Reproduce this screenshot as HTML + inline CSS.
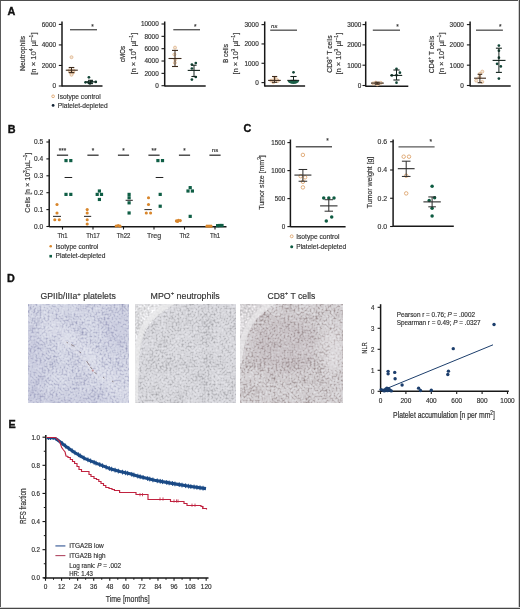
<!DOCTYPE html>
<html><head><meta charset="utf-8"><style>
html,body{margin:0;padding:0;background:#fff;}
body{width:520px;height:609px;overflow:hidden;}
svg{display:block;font-family:"Liberation Sans", sans-serif;will-change:transform;}
</style></head><body>
<svg width="520" height="609" viewBox="0 0 520 609">
<rect x="0" y="0" width="520" height="609" fill="#fff"/>
<rect x="0" y="0" width="1" height="609" fill="#5a5a5a"/>
<rect x="0" y="0" width="520" height="1" fill="#4e4e4e"/>
<rect x="518" y="0" width="1" height="609" fill="#cfcfcf"/>
<rect x="519" y="0" width="1" height="609" fill="#474747"/>
<rect x="0" y="607" width="520" height="1" fill="#cfcfcf"/>
<rect x="0" y="608" width="520" height="1" fill="#474747"/>
<text transform="translate(7.6 15) scale(1 1)" x="0" y="0" font-size="10.8" font-weight="bold" fill="#111" stroke="#111" stroke-width="0.35">A</text>
<text transform="translate(7.8 132.6) scale(1 1)" x="0" y="0" font-size="10.8" font-weight="bold" fill="#111" stroke="#111" stroke-width="0.35">B</text>
<text transform="translate(243.6 132.4) scale(1 1)" x="0" y="0" font-size="10.8" font-weight="bold" fill="#111" stroke="#111" stroke-width="0.35">C</text>
<text transform="translate(7 282.2) scale(1 1)" x="0" y="0" font-size="10.8" font-weight="bold" fill="#111" stroke="#111" stroke-width="0.35">D</text>
<text transform="translate(8.6 428.4) scale(1 1)" x="0" y="0" font-size="10.8" font-weight="bold" fill="#111" stroke="#111" stroke-width="0.35">E</text>
<line x1="62" y1="21.5" x2="62" y2="86.6" stroke="#181818" stroke-width="1.5"/>
<line x1="58.8" y1="24.4" x2="62" y2="24.4" stroke="#181818" stroke-width="1.1"/>
<text transform="translate(56 26.8) scale(0.97 1)" x="-14.68" y="0" font-size="6.6" fill="#333333" stroke="#333333" stroke-width="0.17">6000</text>
<line x1="58.8" y1="44.93" x2="62" y2="44.93" stroke="#181818" stroke-width="1.1"/>
<text transform="translate(56 47.33) scale(0.97 1)" x="-14.68" y="0" font-size="6.6" fill="#333333" stroke="#333333" stroke-width="0.17">4000</text>
<line x1="58.8" y1="65.47" x2="62" y2="65.47" stroke="#181818" stroke-width="1.1"/>
<text transform="translate(56 67.87) scale(0.97 1)" x="-14.68" y="0" font-size="6.6" fill="#333333" stroke="#333333" stroke-width="0.17">2000</text>
<line x1="58.8" y1="86" x2="62" y2="86" stroke="#181818" stroke-width="1.1"/>
<text transform="translate(56 88.4) scale(0.97 1)" x="-3.67" y="0" font-size="6.6" fill="#333333" stroke="#333333" stroke-width="0.17">0</text>
<line x1="62" y1="86.1" x2="102.5" y2="86.1" stroke="#181818" stroke-width="1.5"/>
<line x1="70" y1="29.7" x2="97" y2="29.7" stroke="#5a5a5a" stroke-width="1.4"/>
<text transform="translate(92.4 28.9) scale(1 1)" x="-1.26" y="0" font-size="6.5" fill="#333" stroke="#333" stroke-width="0.16">*</text>
<circle cx="71.5" cy="57.2" r="1.5" fill="#f3e6d8" stroke="#dcae80" stroke-width="0.7"/>
<circle cx="70.2" cy="71.8" r="1.5" fill="#f3e6d8" stroke="#dcae80" stroke-width="0.7"/>
<circle cx="73" cy="72.4" r="1.5" fill="#f3e6d8" stroke="#dcae80" stroke-width="0.7"/>
<circle cx="71.6" cy="73.6" r="1.5" fill="#f3e6d8" stroke="#dcae80" stroke-width="0.7"/>
<circle cx="69.5" cy="70.2" r="1.5" fill="#f3e6d8" stroke="#dcae80" stroke-width="0.7"/>
<circle cx="73.6" cy="70.6" r="1.5" fill="#f3e6d8" stroke="#dcae80" stroke-width="0.7"/>
<circle cx="71.5" cy="74.8" r="1.5" fill="#f3e6d8" stroke="#dcae80" stroke-width="0.7"/>
<line x1="71.5" y1="67.5" x2="71.5" y2="72.6" stroke="#3c2a1c" stroke-width="1"/>
<line x1="65.8" y1="70.2" x2="77.8" y2="70.2" stroke="#3c2a1c" stroke-width="1.1"/>
<line x1="68.7" y1="67.5" x2="74.3" y2="67.5" stroke="#3c2a1c" stroke-width="1.1"/>
<line x1="68.7" y1="72.6" x2="74.3" y2="72.6" stroke="#3c2a1c" stroke-width="1.1"/>
<circle cx="88.9" cy="77.3" r="1.35" fill="#124536"/>
<circle cx="85.5" cy="82.3" r="1.35" fill="#124536"/>
<circle cx="88.4" cy="82.4" r="1.35" fill="#124536"/>
<circle cx="91.8" cy="81.6" r="1.35" fill="#124536"/>
<circle cx="95.8" cy="81.9" r="1.35" fill="#124536"/>
<circle cx="90" cy="83.4" r="1.35" fill="#124536"/>
<line x1="90.5" y1="80.3" x2="90.5" y2="83.6" stroke="#14241e" stroke-width="1"/>
<line x1="85.3" y1="81.9" x2="96.8" y2="81.9" stroke="#14241e" stroke-width="1.1"/>
<line x1="88" y1="80.3" x2="93" y2="80.3" stroke="#14241e" stroke-width="1.1"/>
<line x1="88" y1="83.6" x2="93" y2="83.6" stroke="#14241e" stroke-width="1.1"/>
<text transform="translate(25.4 53.5) rotate(-90) scale(0.91 1)" x="-19.22" y="0" font-size="7.6" fill="#333333" stroke="#333333" stroke-width="0.18">Neutrophils</text>
<text transform="translate(35.8 53.6) rotate(-90) scale(1 1)" x="-21.18" y="0" font-size="7.6" fill="#333333" stroke="#333333" stroke-width="0.16">[n × 10<tspan font-size="5.17" dy="-2.89">4</tspan><tspan dy="2.89"> µl</tspan><tspan font-size="5.17" dy="-2.89">–1</tspan><tspan dy="2.89">]</tspan></text>
<line x1="164.7" y1="21.5" x2="164.7" y2="86.4" stroke="#181818" stroke-width="1.5"/>
<line x1="161.5" y1="24" x2="164.7" y2="24" stroke="#181818" stroke-width="1.1"/>
<text transform="translate(158.7 26.4) scale(0.97 1)" x="-18.35" y="0" font-size="6.6" fill="#333333" stroke="#333333" stroke-width="0.17">10000</text>
<line x1="161.5" y1="36.34" x2="164.7" y2="36.34" stroke="#181818" stroke-width="1.1"/>
<text transform="translate(158.7 38.74) scale(0.97 1)" x="-14.68" y="0" font-size="6.6" fill="#333333" stroke="#333333" stroke-width="0.17">8000</text>
<line x1="161.5" y1="48.68" x2="164.7" y2="48.68" stroke="#181818" stroke-width="1.1"/>
<text transform="translate(158.7 51.08) scale(0.97 1)" x="-14.68" y="0" font-size="6.6" fill="#333333" stroke="#333333" stroke-width="0.17">6000</text>
<line x1="161.5" y1="61.02" x2="164.7" y2="61.02" stroke="#181818" stroke-width="1.1"/>
<text transform="translate(158.7 63.42) scale(0.97 1)" x="-14.68" y="0" font-size="6.6" fill="#333333" stroke="#333333" stroke-width="0.17">4000</text>
<line x1="161.5" y1="73.36" x2="164.7" y2="73.36" stroke="#181818" stroke-width="1.1"/>
<text transform="translate(158.7 75.76) scale(0.97 1)" x="-14.68" y="0" font-size="6.6" fill="#333333" stroke="#333333" stroke-width="0.17">2000</text>
<line x1="161.5" y1="85.7" x2="164.7" y2="85.7" stroke="#181818" stroke-width="1.1"/>
<text transform="translate(158.7 88.1) scale(0.97 1)" x="-3.67" y="0" font-size="6.6" fill="#333333" stroke="#333333" stroke-width="0.17">0</text>
<line x1="164.7" y1="85.9" x2="205.7" y2="85.9" stroke="#181818" stroke-width="1.5"/>
<line x1="173.3" y1="29.7" x2="200" y2="29.7" stroke="#5a5a5a" stroke-width="1.4"/>
<text transform="translate(195.3 28.9) scale(1 1)" x="-1.26" y="0" font-size="6.5" fill="#333" stroke="#333" stroke-width="0.16">*</text>
<circle cx="175" cy="47.6" r="1.5" fill="#f3e6d8" stroke="#dcae80" stroke-width="0.7"/>
<circle cx="174.4" cy="54.5" r="1.5" fill="#f3e6d8" stroke="#dcae80" stroke-width="0.7"/>
<circle cx="175.2" cy="59.5" r="1.5" fill="#f3e6d8" stroke="#dcae80" stroke-width="0.7"/>
<circle cx="174.8" cy="62.8" r="1.5" fill="#f3e6d8" stroke="#dcae80" stroke-width="0.7"/>
<line x1="175" y1="50.4" x2="175" y2="66.5" stroke="#3c2a1c" stroke-width="1"/>
<line x1="168.5" y1="58.5" x2="181.5" y2="58.5" stroke="#3c2a1c" stroke-width="1.1"/>
<line x1="172" y1="50.4" x2="178" y2="50.4" stroke="#3c2a1c" stroke-width="1.1"/>
<line x1="172" y1="66.5" x2="178" y2="66.5" stroke="#3c2a1c" stroke-width="1.1"/>
<circle cx="195.8" cy="63" r="1.35" fill="#124536"/>
<circle cx="191.9" cy="64.6" r="1.35" fill="#124536"/>
<circle cx="191.9" cy="68.5" r="1.35" fill="#124536"/>
<circle cx="195.8" cy="77" r="1.35" fill="#124536"/>
<circle cx="191.9" cy="79.6" r="1.35" fill="#124536"/>
<line x1="194" y1="65.2" x2="194" y2="76.5" stroke="#14241e" stroke-width="1"/>
<line x1="187.7" y1="70.4" x2="200" y2="70.4" stroke="#14241e" stroke-width="1.1"/>
<line x1="191.4" y1="65.2" x2="196.6" y2="65.2" stroke="#14241e" stroke-width="1.1"/>
<line x1="191.4" y1="76.5" x2="196.6" y2="76.5" stroke="#14241e" stroke-width="1.1"/>
<text transform="translate(125.4 54) rotate(-90) scale(0.81 1)" x="-9.92" y="0" font-size="7.6" fill="#333333" stroke="#333333" stroke-width="0.2">cMOs</text>
<text transform="translate(136 53.6) rotate(-90) scale(0.99 1)" x="-21.18" y="0" font-size="7.6" fill="#333333" stroke="#333333" stroke-width="0.16">[n × 10<tspan font-size="5.17" dy="-2.89">4</tspan><tspan dy="2.89"> µl</tspan><tspan font-size="5.17" dy="-2.89">–1</tspan><tspan dy="2.89">]</tspan></text>
<line x1="264.7" y1="21.5" x2="264.7" y2="86.6" stroke="#181818" stroke-width="1.5"/>
<line x1="261.5" y1="24.61" x2="264.7" y2="24.61" stroke="#181818" stroke-width="1.1"/>
<text transform="translate(258.7 27.01) scale(0.97 1)" x="-14.68" y="0" font-size="6.6" fill="#333333" stroke="#333333" stroke-width="0.17">3000</text>
<line x1="261.5" y1="43.94" x2="264.7" y2="43.94" stroke="#181818" stroke-width="1.1"/>
<text transform="translate(258.7 46.34) scale(0.97 1)" x="-14.68" y="0" font-size="6.6" fill="#333333" stroke="#333333" stroke-width="0.17">2000</text>
<line x1="261.5" y1="63.27" x2="264.7" y2="63.27" stroke="#181818" stroke-width="1.1"/>
<text transform="translate(258.7 65.67) scale(0.97 1)" x="-14.68" y="0" font-size="6.6" fill="#333333" stroke="#333333" stroke-width="0.17">1000</text>
<line x1="261.5" y1="82.6" x2="264.7" y2="82.6" stroke="#181818" stroke-width="1.1"/>
<text transform="translate(258.7 85) scale(0.97 1)" x="-3.67" y="0" font-size="6.6" fill="#333333" stroke="#333333" stroke-width="0.17">0</text>
<line x1="264.7" y1="86.1" x2="305.1" y2="86.1" stroke="#181818" stroke-width="1.5"/>
<line x1="270.2" y1="30.2" x2="297" y2="30.2" stroke="#5a5a5a" stroke-width="1.4"/>
<text transform="translate(274.2 27.6) scale(1 1)" x="-3.17" y="0" font-size="6" font-style="italic" fill="#333333" stroke="#333333" stroke-width="0.16">ns</text>
<circle cx="271.2" cy="80.6" r="1.5" fill="#f3e6d8" stroke="#dcae80" stroke-width="0.7"/>
<circle cx="274.6" cy="78.6" r="1.5" fill="#f3e6d8" stroke="#dcae80" stroke-width="0.7"/>
<circle cx="277.8" cy="80.9" r="1.5" fill="#f3e6d8" stroke="#dcae80" stroke-width="0.7"/>
<circle cx="273.4" cy="82.2" r="1.5" fill="#f3e6d8" stroke="#dcae80" stroke-width="0.7"/>
<circle cx="276.5" cy="79.4" r="1.5" fill="#f3e6d8" stroke="#dcae80" stroke-width="0.7"/>
<line x1="274.6" y1="76.5" x2="274.6" y2="82.3" stroke="#3c2a1c" stroke-width="1"/>
<line x1="268.1" y1="80.4" x2="280.8" y2="80.4" stroke="#3c2a1c" stroke-width="1.1"/>
<line x1="272" y1="76.5" x2="277.2" y2="76.5" stroke="#3c2a1c" stroke-width="1.1"/>
<line x1="272" y1="82.3" x2="277.2" y2="82.3" stroke="#3c2a1c" stroke-width="1.1"/>
<circle cx="293.5" cy="72.3" r="1.35" fill="#124536"/>
<line x1="293.5" y1="76.5" x2="293.5" y2="80.4" stroke="#14241e" stroke-width="1"/>
<line x1="287.3" y1="80.4" x2="299.2" y2="80.4" stroke="#14241e" stroke-width="1.1"/>
<line x1="290.4" y1="76.5" x2="296.6" y2="76.5" stroke="#14241e" stroke-width="1.1"/>
<line x1="290.4" y1="80.4" x2="296.6" y2="80.4" stroke="#14241e" stroke-width="1.1"/>
<path d="M287.6 80.9 L299 80.9 C298.6 82.6 296.8 83.8 293.5 83.9 C290.2 83.8 288.2 82.6 287.6 80.9 Z" fill="#1a5f48"/>
<text transform="translate(228.4 53.6) rotate(-90) scale(0.85 1)" x="-11.19" y="0" font-size="7.6" fill="#333333" stroke="#333333" stroke-width="0.19">B cells</text>
<text transform="translate(238.3 53.6) rotate(-90) scale(0.99 1)" x="-21.18" y="0" font-size="7.6" fill="#333333" stroke="#333333" stroke-width="0.16">[n × 10<tspan font-size="5.17" dy="-2.89">3</tspan><tspan dy="2.89"> µl</tspan><tspan font-size="5.17" dy="-2.89">–1</tspan><tspan dy="2.89">]</tspan></text>
<line x1="365.7" y1="21.5" x2="365.7" y2="86.7" stroke="#181818" stroke-width="1.5"/>
<line x1="362.5" y1="24.6" x2="365.7" y2="24.6" stroke="#181818" stroke-width="1.1"/>
<text transform="translate(361.4 27) scale(0.97 1)" x="-14.68" y="0" font-size="6.6" fill="#333333" stroke="#333333" stroke-width="0.17">3000</text>
<line x1="362.5" y1="44.9" x2="365.7" y2="44.9" stroke="#181818" stroke-width="1.1"/>
<text transform="translate(361.4 47.3) scale(0.97 1)" x="-14.68" y="0" font-size="6.6" fill="#333333" stroke="#333333" stroke-width="0.17">2000</text>
<line x1="362.5" y1="65.2" x2="365.7" y2="65.2" stroke="#181818" stroke-width="1.1"/>
<text transform="translate(361.4 67.6) scale(0.97 1)" x="-14.68" y="0" font-size="6.6" fill="#333333" stroke="#333333" stroke-width="0.17">1000</text>
<line x1="362.5" y1="85.5" x2="365.7" y2="85.5" stroke="#181818" stroke-width="1.1"/>
<text transform="translate(361.4 87.9) scale(0.97 1)" x="-3.67" y="0" font-size="6.6" fill="#333333" stroke="#333333" stroke-width="0.17">0</text>
<line x1="365.7" y1="86.2" x2="408.3" y2="86.2" stroke="#181818" stroke-width="1.5"/>
<line x1="372.8" y1="30.2" x2="400" y2="30.2" stroke="#5a5a5a" stroke-width="1.4"/>
<text transform="translate(397.5 29.2) scale(1 1)" x="-1.26" y="0" font-size="6.5" fill="#333" stroke="#333" stroke-width="0.16">*</text>
<circle cx="373.2" cy="83.4" r="1.5" fill="#f3e6d8" stroke="#dcae80" stroke-width="0.7"/>
<circle cx="375.8" cy="82.6" r="1.5" fill="#f3e6d8" stroke="#dcae80" stroke-width="0.7"/>
<circle cx="378.4" cy="83.8" r="1.5" fill="#f3e6d8" stroke="#dcae80" stroke-width="0.7"/>
<circle cx="380.8" cy="82.8" r="1.5" fill="#f3e6d8" stroke="#dcae80" stroke-width="0.7"/>
<circle cx="377.2" cy="84.4" r="1.5" fill="#f3e6d8" stroke="#dcae80" stroke-width="0.7"/>
<line x1="377.2" y1="82.2" x2="377.2" y2="84.2" stroke="#3c2a1c" stroke-width="1"/>
<line x1="371" y1="83.1" x2="383.8" y2="83.1" stroke="#3c2a1c" stroke-width="1.1"/>
<line x1="374.8" y1="82.2" x2="379.6" y2="82.2" stroke="#3c2a1c" stroke-width="1.1"/>
<line x1="374.8" y1="84.2" x2="379.6" y2="84.2" stroke="#3c2a1c" stroke-width="1.1"/>
<circle cx="396.5" cy="68.8" r="1.35" fill="#124536"/>
<circle cx="399.9" cy="72.7" r="1.35" fill="#124536"/>
<circle cx="391.8" cy="75.4" r="1.35" fill="#124536"/>
<circle cx="396.5" cy="75.2" r="1.35" fill="#124536"/>
<circle cx="396.5" cy="82.7" r="1.35" fill="#124536"/>
<line x1="396.5" y1="70" x2="396.5" y2="80" stroke="#14241e" stroke-width="1"/>
<line x1="390.3" y1="75.4" x2="402.2" y2="75.4" stroke="#14241e" stroke-width="1.1"/>
<line x1="393.4" y1="70" x2="399.6" y2="70" stroke="#14241e" stroke-width="1.1"/>
<line x1="393.4" y1="80" x2="399.6" y2="80" stroke="#14241e" stroke-width="1.1"/>
<text transform="translate(332 54) rotate(-90) scale(0.89 1)" x="-21.01" y="0" font-size="7.6" fill="#333333" stroke="#333333" stroke-width="0.18">CD8<tspan font-size="5.17" dy="-2.89">+</tspan><tspan dy="2.89"> T cells</tspan></text>
<text transform="translate(341.2 53.6) rotate(-90) scale(0.99 1)" x="-21.18" y="0" font-size="7.6" fill="#333333" stroke="#333333" stroke-width="0.16">[n × 10<tspan font-size="5.17" dy="-2.89">3</tspan><tspan dy="2.89"> µl</tspan><tspan font-size="5.17" dy="-2.89">–1</tspan><tspan dy="2.89">]</tspan></text>
<line x1="470.1" y1="21.5" x2="470.1" y2="86.5" stroke="#181818" stroke-width="1.5"/>
<line x1="466.9" y1="24.6" x2="470.1" y2="24.6" stroke="#181818" stroke-width="1.1"/>
<text transform="translate(463.8 27) scale(0.97 1)" x="-14.68" y="0" font-size="6.6" fill="#333333" stroke="#333333" stroke-width="0.17">3000</text>
<line x1="466.9" y1="44.9" x2="470.1" y2="44.9" stroke="#181818" stroke-width="1.1"/>
<text transform="translate(463.8 47.3) scale(0.97 1)" x="-14.68" y="0" font-size="6.6" fill="#333333" stroke="#333333" stroke-width="0.17">2000</text>
<line x1="466.9" y1="65.2" x2="470.1" y2="65.2" stroke="#181818" stroke-width="1.1"/>
<text transform="translate(463.8 67.6) scale(0.97 1)" x="-14.68" y="0" font-size="6.6" fill="#333333" stroke="#333333" stroke-width="0.17">1000</text>
<line x1="466.9" y1="85.5" x2="470.1" y2="85.5" stroke="#181818" stroke-width="1.1"/>
<text transform="translate(463.8 87.9) scale(0.97 1)" x="-3.67" y="0" font-size="6.6" fill="#333333" stroke="#333333" stroke-width="0.17">0</text>
<line x1="470.1" y1="86" x2="510.7" y2="86" stroke="#181818" stroke-width="1.5"/>
<line x1="476" y1="30.2" x2="502.9" y2="30.2" stroke="#5a5a5a" stroke-width="1.4"/>
<text transform="translate(500.3 29.2) scale(1 1)" x="-1.26" y="0" font-size="6.5" fill="#333" stroke="#333" stroke-width="0.16">*</text>
<circle cx="482.3" cy="71.6" r="1.5" fill="#f3e6d8" stroke="#dcae80" stroke-width="0.7"/>
<circle cx="479.9" cy="73.8" r="1.5" fill="#f3e6d8" stroke="#dcae80" stroke-width="0.7"/>
<circle cx="476.2" cy="80.6" r="1.5" fill="#f3e6d8" stroke="#dcae80" stroke-width="0.7"/>
<circle cx="482.3" cy="81.9" r="1.5" fill="#f3e6d8" stroke="#dcae80" stroke-width="0.7"/>
<circle cx="479.5" cy="77" r="1.5" fill="#f3e6d8" stroke="#dcae80" stroke-width="0.7"/>
<line x1="479.9" y1="74.3" x2="479.9" y2="82.7" stroke="#3c2a1c" stroke-width="1"/>
<line x1="474.1" y1="78.2" x2="486" y2="78.2" stroke="#3c2a1c" stroke-width="1.1"/>
<line x1="477.6" y1="74.3" x2="482.2" y2="74.3" stroke="#3c2a1c" stroke-width="1.1"/>
<line x1="477.6" y1="82.7" x2="482.2" y2="82.7" stroke="#3c2a1c" stroke-width="1.1"/>
<circle cx="498.9" cy="45.6" r="1.35" fill="#124536"/>
<circle cx="498.9" cy="50.7" r="1.35" fill="#124536"/>
<circle cx="498.9" cy="57.7" r="1.35" fill="#124536"/>
<circle cx="497.1" cy="63.8" r="1.35" fill="#124536"/>
<circle cx="500.8" cy="66.4" r="1.35" fill="#124536"/>
<circle cx="498.9" cy="78.6" r="1.35" fill="#124536"/>
<line x1="498.9" y1="48.2" x2="498.9" y2="72.4" stroke="#14241e" stroke-width="1"/>
<line x1="492.6" y1="60.4" x2="505.5" y2="60.4" stroke="#14241e" stroke-width="1.1"/>
<line x1="495.9" y1="48.2" x2="501.9" y2="48.2" stroke="#14241e" stroke-width="1.1"/>
<line x1="495.9" y1="72.4" x2="501.9" y2="72.4" stroke="#14241e" stroke-width="1.1"/>
<text transform="translate(434.2 54.5) rotate(-90) scale(0.89 1)" x="-21.01" y="0" font-size="7.6" fill="#333333" stroke="#333333" stroke-width="0.18">CD4<tspan font-size="5.17" dy="-2.89">+</tspan><tspan dy="2.89"> T cells</tspan></text>
<text transform="translate(443.9 53.4) rotate(-90) scale(0.99 1)" x="-21.18" y="0" font-size="7.6" fill="#333333" stroke="#333333" stroke-width="0.16">[n × 10<tspan font-size="5.17" dy="-2.89">3</tspan><tspan dy="2.89"> µl</tspan><tspan font-size="5.17" dy="-2.89">–1</tspan><tspan dy="2.89">]</tspan></text>
<circle cx="53.1" cy="96.3" r="1.35" fill="#fff" stroke="#d99a5e" stroke-width="0.8"/>
<text transform="translate(57.8 98.8) scale(0.97 1)" x="0" y="0" font-size="6.8" fill="#333333" stroke="#333333" stroke-width="0.16">Isotype control</text>
<circle cx="53.1" cy="105.4" r="1.4" fill="#123"/>
<text transform="translate(57.8 107.5) scale(0.98 1)" x="0" y="0" font-size="6.8" fill="#333333" stroke="#333333" stroke-width="0.16">Platelet-depleted</text>
<line x1="49.2" y1="139.2" x2="49.2" y2="227" stroke="#181818" stroke-width="1.5"/>
<line x1="46.4" y1="142" x2="49.2" y2="142" stroke="#181818" stroke-width="1.1"/>
<text transform="translate(43.2 144.4) scale(1 1)" x="-9.17" y="0" font-size="6.6" fill="#333333" stroke="#333333" stroke-width="0.16">0.5</text>
<line x1="46.4" y1="158.9" x2="49.2" y2="158.9" stroke="#181818" stroke-width="1.1"/>
<text transform="translate(43.2 161.3) scale(1 1)" x="-9.17" y="0" font-size="6.6" fill="#333333" stroke="#333333" stroke-width="0.16">0.4</text>
<line x1="46.4" y1="175.8" x2="49.2" y2="175.8" stroke="#181818" stroke-width="1.1"/>
<text transform="translate(43.2 178.2) scale(1 1)" x="-9.17" y="0" font-size="6.6" fill="#333333" stroke="#333333" stroke-width="0.16">0.3</text>
<line x1="46.4" y1="192.7" x2="49.2" y2="192.7" stroke="#181818" stroke-width="1.1"/>
<text transform="translate(43.2 195.1) scale(1 1)" x="-9.17" y="0" font-size="6.6" fill="#333333" stroke="#333333" stroke-width="0.16">0.2</text>
<line x1="46.4" y1="209.6" x2="49.2" y2="209.6" stroke="#181818" stroke-width="1.1"/>
<text transform="translate(43.2 212) scale(1 1)" x="-9.17" y="0" font-size="6.6" fill="#333333" stroke="#333333" stroke-width="0.16">0.1</text>
<line x1="46.4" y1="226.5" x2="49.2" y2="226.5" stroke="#181818" stroke-width="1.1"/>
<text transform="translate(43.2 228.9) scale(1 1)" x="-9.17" y="0" font-size="6.6" fill="#333333" stroke="#333333" stroke-width="0.16">0.0</text>
<line x1="49.2" y1="226.7" x2="226.5" y2="226.7" stroke="#181818" stroke-width="1.5"/>
<line x1="62.5" y1="226.7" x2="62.5" y2="229.5" stroke="#181818" stroke-width="1.1"/>
<text transform="translate(62.5 238.4) scale(0.87 1)" x="-5.86" y="0" font-size="6.8" fill="#333333" stroke="#333333" stroke-width="0.18">Th1</text>
<line x1="93" y1="226.7" x2="93" y2="229.5" stroke="#181818" stroke-width="1.1"/>
<text transform="translate(93 238.4) scale(0.88 1)" x="-7.75" y="0" font-size="6.8" fill="#333333" stroke="#333333" stroke-width="0.18">Th17</text>
<line x1="123.5" y1="226.7" x2="123.5" y2="229.5" stroke="#181818" stroke-width="1.1"/>
<text transform="translate(123.5 238.4) scale(0.88 1)" x="-7.75" y="0" font-size="6.8" fill="#333333" stroke="#333333" stroke-width="0.18">Th22</text>
<line x1="154" y1="226.7" x2="154" y2="229.5" stroke="#181818" stroke-width="1.1"/>
<text transform="translate(154 238.4) scale(1.03 1)" x="-6.86" y="0" font-size="6.8" fill="#333333" stroke="#333333" stroke-width="0.15">Treg</text>
<line x1="184.5" y1="226.7" x2="184.5" y2="229.5" stroke="#181818" stroke-width="1.1"/>
<text transform="translate(184.5 238.4) scale(0.87 1)" x="-5.86" y="0" font-size="6.8" fill="#333333" stroke="#333333" stroke-width="0.18">Th2</text>
<line x1="215" y1="226.7" x2="215" y2="229.5" stroke="#181818" stroke-width="1.1"/>
<text transform="translate(215 238.4) scale(0.87 1)" x="-5.86" y="0" font-size="6.8" fill="#333333" stroke="#333333" stroke-width="0.18">Th1</text>
<line x1="56.9" y1="155.2" x2="68.1" y2="155.2" stroke="#333" stroke-width="1.3"/>
<text transform="translate(62.5 153.2) scale(1 1)" x="-3.68" y="0" font-size="6.3" fill="#333" stroke="#333" stroke-width="0.16">***</text>
<line x1="87.4" y1="155.2" x2="98.6" y2="155.2" stroke="#333" stroke-width="1.3"/>
<text transform="translate(93 153.2) scale(1 1)" x="-1.23" y="0" font-size="6.3" fill="#333" stroke="#333" stroke-width="0.16">*</text>
<line x1="117.9" y1="155.2" x2="129.1" y2="155.2" stroke="#333" stroke-width="1.3"/>
<text transform="translate(123.5 153.2) scale(1 1)" x="-1.23" y="0" font-size="6.3" fill="#333" stroke="#333" stroke-width="0.16">*</text>
<line x1="148.4" y1="155.2" x2="159.6" y2="155.2" stroke="#333" stroke-width="1.3"/>
<text transform="translate(154 153.2) scale(1 1)" x="-2.45" y="0" font-size="6.3" fill="#333" stroke="#333" stroke-width="0.16">**</text>
<line x1="178.9" y1="155.2" x2="190.1" y2="155.2" stroke="#333" stroke-width="1.3"/>
<text transform="translate(184.5 153.2) scale(1 1)" x="-1.23" y="0" font-size="6.3" fill="#333" stroke="#333" stroke-width="0.16">*</text>
<line x1="209.4" y1="155.2" x2="220.6" y2="155.2" stroke="#333" stroke-width="1.3"/>
<text transform="translate(215 152.2) scale(1 1)" x="-3.17" y="0" font-size="6" fill="#333333" stroke="#333333" stroke-width="0.16">ns</text>
<text transform="translate(30.2 182.7) rotate(-90) scale(0.99 1)" x="-30.27" y="0" font-size="7.2" fill="#333333" stroke="#333333" stroke-width="0.16">Cells [n × 10<tspan font-size="4.9" dy="-2.74">3</tspan><tspan dy="2.74">/µL</tspan><tspan font-size="4.9" dy="-2.74">–1</tspan><tspan dy="2.74">]</tspan></text>
<circle cx="57" cy="204.53" r="1.55" fill="#d8862c"/>
<circle cx="57" cy="212.98" r="1.55" fill="#d8862c"/>
<circle cx="54.8" cy="219.74" r="1.55" fill="#d8862c"/>
<circle cx="59.3" cy="219.74" r="1.55" fill="#d8862c"/>
<line x1="53" y1="216.36" x2="61" y2="216.36" stroke="#222" stroke-width="1"/>
<rect x="64.4" y="158.99" width="3.2" height="3.2" fill="#0f5e45"/>
<rect x="69.2" y="158.99" width="3.2" height="3.2" fill="#0f5e45"/>
<rect x="64.4" y="192.79" width="3.2" height="3.2" fill="#0f5e45"/>
<rect x="69.2" y="192.79" width="3.2" height="3.2" fill="#0f5e45"/>
<line x1="64.6" y1="177.49" x2="72.2" y2="177.49" stroke="#222" stroke-width="1"/>
<circle cx="87.2" cy="209.6" r="1.55" fill="#d8862c"/>
<circle cx="87.2" cy="212.98" r="1.55" fill="#d8862c"/>
<circle cx="87.2" cy="219.74" r="1.55" fill="#d8862c"/>
<circle cx="87.2" cy="223.97" r="1.55" fill="#d8862c"/>
<line x1="84" y1="216.36" x2="91.2" y2="216.36" stroke="#222" stroke-width="1"/>
<rect x="97.8" y="189.41" width="3.2" height="3.2" fill="#0f5e45"/>
<rect x="95.6" y="192.79" width="3.2" height="3.2" fill="#0f5e45"/>
<rect x="99.9" y="192.79" width="3.2" height="3.2" fill="#0f5e45"/>
<rect x="97.8" y="197.86" width="3.2" height="3.2" fill="#0f5e45"/>
<circle cx="116.2" cy="225.99" r="1.55" fill="#d8862c"/>
<circle cx="118.2" cy="225.49" r="1.55" fill="#d8862c"/>
<circle cx="120" cy="226.16" r="1.55" fill="#d8862c"/>
<rect x="127.5" y="192.79" width="3.2" height="3.2" fill="#0f5e45"/>
<rect x="127.5" y="196.17" width="3.2" height="3.2" fill="#0f5e45"/>
<rect x="127.5" y="201.24" width="3.2" height="3.2" fill="#0f5e45"/>
<rect x="127.5" y="211.38" width="3.2" height="3.2" fill="#0f5e45"/>
<line x1="125.6" y1="200.31" x2="132.8" y2="200.31" stroke="#222" stroke-width="1"/>
<circle cx="148.5" cy="197.77" r="1.55" fill="#d8862c"/>
<circle cx="148.5" cy="204.53" r="1.55" fill="#d8862c"/>
<circle cx="146.3" cy="212.98" r="1.55" fill="#d8862c"/>
<circle cx="150.6" cy="212.98" r="1.55" fill="#d8862c"/>
<line x1="144.4" y1="209.6" x2="151.8" y2="209.6" stroke="#222" stroke-width="1"/>
<rect x="156.3" y="158.99" width="3.2" height="3.2" fill="#0f5e45"/>
<rect x="160.9" y="158.99" width="3.2" height="3.2" fill="#0f5e45"/>
<rect x="158.6" y="192.79" width="3.2" height="3.2" fill="#0f5e45"/>
<rect x="158.6" y="204.62" width="3.2" height="3.2" fill="#0f5e45"/>
<line x1="155.7" y1="177.49" x2="163.3" y2="177.49" stroke="#222" stroke-width="1"/>
<circle cx="176.4" cy="220.92" r="1.55" fill="#d8862c"/>
<circle cx="178.4" cy="220.25" r="1.55" fill="#d8862c"/>
<circle cx="180.3" cy="220.59" r="1.55" fill="#d8862c"/>
<circle cx="177.6" cy="221.43" r="1.55" fill="#d8862c"/>
<rect x="188.6" y="186.03" width="3.2" height="3.2" fill="#0f5e45"/>
<rect x="186.4" y="189.41" width="3.2" height="3.2" fill="#0f5e45"/>
<rect x="190.8" y="189.41" width="3.2" height="3.2" fill="#0f5e45"/>
<rect x="188.6" y="214.76" width="3.2" height="3.2" fill="#0f5e45"/>
<circle cx="207" cy="226.16" r="1.55" fill="#d8862c"/>
<circle cx="209" cy="226.16" r="1.55" fill="#d8862c"/>
<circle cx="211" cy="226.16" r="1.55" fill="#d8862c"/>
<rect x="216" y="224.06" width="3.2" height="3.2" fill="#0f5e45"/>
<rect x="218.2" y="223.89" width="3.2" height="3.2" fill="#0f5e45"/>
<rect x="220.4" y="223.89" width="3.2" height="3.2" fill="#0f5e45"/>
<circle cx="50.7" cy="246.3" r="1.3" fill="#d8862c"/>
<text transform="translate(55.5 248.5) scale(0.97 1)" x="0" y="0" font-size="6.8" fill="#333333" stroke="#333333" stroke-width="0.16">Isotype control</text>
<rect x="49.4" y="254.9" width="2.6" height="2.6" fill="#0f5e45"/>
<text transform="translate(55.5 257.9) scale(0.98 1)" x="0" y="0" font-size="6.8" fill="#333333" stroke="#333333" stroke-width="0.16">Platelet-depleted</text>
<line x1="290.4" y1="139.5" x2="290.4" y2="227.1" stroke="#181818" stroke-width="1.5"/>
<line x1="287.4" y1="142.6" x2="290.4" y2="142.6" stroke="#181818" stroke-width="1.1"/>
<text transform="translate(285.2 145) scale(0.95 1)" x="-14.68" y="0" font-size="6.6" fill="#333333" stroke="#333333" stroke-width="0.17">1500</text>
<line x1="287.4" y1="170.6" x2="290.4" y2="170.6" stroke="#181818" stroke-width="1.1"/>
<text transform="translate(285.2 173) scale(0.95 1)" x="-14.68" y="0" font-size="6.6" fill="#333333" stroke="#333333" stroke-width="0.17">1000</text>
<line x1="287.4" y1="198.6" x2="290.4" y2="198.6" stroke="#181818" stroke-width="1.1"/>
<text transform="translate(285.2 201) scale(0.95 1)" x="-11.01" y="0" font-size="6.6" fill="#333333" stroke="#333333" stroke-width="0.17">500</text>
<line x1="287.4" y1="226.6" x2="290.4" y2="226.6" stroke="#181818" stroke-width="1.1"/>
<text transform="translate(285.2 229) scale(0.95 1)" x="-3.67" y="0" font-size="6.6" fill="#333333" stroke="#333333" stroke-width="0.17">0</text>
<line x1="290.4" y1="226.8" x2="345.6" y2="226.8" stroke="#181818" stroke-width="1.5"/>
<line x1="295.8" y1="146.7" x2="332" y2="146.7" stroke="#5a5a5a" stroke-width="1.4"/>
<text transform="translate(327.5 143.4) scale(1 1)" x="-1.26" y="0" font-size="6.5" fill="#333" stroke="#333" stroke-width="0.16">*</text>
<circle cx="302.9" cy="154.92" r="1.75" fill="#fff" stroke="#d99a5e" stroke-width="0.8"/>
<circle cx="300.7" cy="176.2" r="1.75" fill="#fff" stroke="#d99a5e" stroke-width="0.8"/>
<circle cx="305.1" cy="177.32" r="1.75" fill="#fff" stroke="#d99a5e" stroke-width="0.8"/>
<circle cx="302.9" cy="181.8" r="1.75" fill="#fff" stroke="#d99a5e" stroke-width="0.8"/>
<circle cx="302.9" cy="187.4" r="1.75" fill="#fff" stroke="#d99a5e" stroke-width="0.8"/>
<line x1="302.9" y1="169.48" x2="302.9" y2="181.24" stroke="#2a2a2a" stroke-width="1"/>
<line x1="294.4" y1="175.08" x2="311.4" y2="175.08" stroke="#2a2a2a" stroke-width="1.1"/>
<line x1="298.6" y1="169.48" x2="307.2" y2="169.48" stroke="#2a2a2a" stroke-width="1"/>
<line x1="298.6" y1="181.24" x2="307.2" y2="181.24" stroke="#2a2a2a" stroke-width="1"/>
<circle cx="323.7" cy="198.04" r="1.75" fill="#0d5b41"/>
<circle cx="328.8" cy="198.04" r="1.75" fill="#0d5b41"/>
<circle cx="334" cy="198.04" r="1.75" fill="#0d5b41"/>
<circle cx="331.7" cy="217.08" r="1.75" fill="#0d5b41"/>
<circle cx="326.3" cy="221" r="1.75" fill="#0d5b41"/>
<line x1="328.8" y1="199.72" x2="328.8" y2="211.2" stroke="#2a2a2a" stroke-width="1"/>
<line x1="320.1" y1="205.88" x2="337.5" y2="205.88" stroke="#2a2a2a" stroke-width="1.1"/>
<line x1="324.6" y1="199.72" x2="333" y2="199.72" stroke="#2a2a2a" stroke-width="1"/>
<line x1="324.6" y1="211.2" x2="333" y2="211.2" stroke="#2a2a2a" stroke-width="1"/>
<text transform="translate(264.1 182.5) rotate(-90) scale(0.95 1)" x="-28.81" y="0" font-size="7.4" fill="#333333" stroke="#333333" stroke-width="0.17">Tumor size [mm<tspan font-size="5.03" dy="-2.81">3</tspan><tspan dy="2.81">]</tspan></text>
<line x1="393.1" y1="139.5" x2="393.1" y2="226.6" stroke="#181818" stroke-width="1.5"/>
<line x1="390.1" y1="141.75" x2="393.1" y2="141.75" stroke="#181818" stroke-width="1.1"/>
<text transform="translate(387.2 144.15) scale(1.05 1)" x="-9.17" y="0" font-size="6.6" fill="#333333" stroke="#333333" stroke-width="0.15">0.6</text>
<line x1="390.1" y1="170" x2="393.1" y2="170" stroke="#181818" stroke-width="1.1"/>
<text transform="translate(387.2 172.4) scale(1.05 1)" x="-9.17" y="0" font-size="6.6" fill="#333333" stroke="#333333" stroke-width="0.15">0.4</text>
<line x1="390.1" y1="198.25" x2="393.1" y2="198.25" stroke="#181818" stroke-width="1.1"/>
<text transform="translate(387.2 200.65) scale(1.05 1)" x="-9.17" y="0" font-size="6.6" fill="#333333" stroke="#333333" stroke-width="0.15">0.2</text>
<line x1="390.1" y1="226.5" x2="393.1" y2="226.5" stroke="#181818" stroke-width="1.1"/>
<text transform="translate(387.2 228.9) scale(1.05 1)" x="-9.17" y="0" font-size="6.6" fill="#333333" stroke="#333333" stroke-width="0.15">0.0</text>
<line x1="393.1" y1="226.3" x2="453.8" y2="226.3" stroke="#181818" stroke-width="1.5"/>
<line x1="398.5" y1="146.9" x2="434.6" y2="146.9" stroke="#5a5a5a" stroke-width="1.4"/>
<text transform="translate(430.8 143.8) scale(1 1)" x="-1.26" y="0" font-size="6.5" fill="#333" stroke="#333" stroke-width="0.16">*</text>
<circle cx="403.7" cy="156.68" r="1.75" fill="#fff" stroke="#d99a5e" stroke-width="0.8"/>
<circle cx="409" cy="156.68" r="1.75" fill="#fff" stroke="#d99a5e" stroke-width="0.8"/>
<circle cx="406.2" cy="175.74" r="1.75" fill="#fff" stroke="#d99a5e" stroke-width="0.8"/>
<circle cx="406.2" cy="193.4" r="1.75" fill="#fff" stroke="#d99a5e" stroke-width="0.8"/>
<line x1="406.2" y1="161.19" x2="406.2" y2="176.45" stroke="#2a2a2a" stroke-width="1"/>
<line x1="397.8" y1="168.68" x2="414.6" y2="168.68" stroke="#2a2a2a" stroke-width="1.1"/>
<line x1="401.9" y1="161.19" x2="410.5" y2="161.19" stroke="#2a2a2a" stroke-width="1"/>
<line x1="401.9" y1="176.45" x2="410.5" y2="176.45" stroke="#2a2a2a" stroke-width="1"/>
<circle cx="432.1" cy="186.34" r="1.75" fill="#0d5b41"/>
<circle cx="434.6" cy="197.64" r="1.75" fill="#0d5b41"/>
<circle cx="429.2" cy="200.46" r="1.75" fill="#0d5b41"/>
<circle cx="432.1" cy="208.23" r="1.75" fill="#0d5b41"/>
<circle cx="432.1" cy="216" r="1.75" fill="#0d5b41"/>
<line x1="432.1" y1="196.93" x2="432.1" y2="206.82" stroke="#2a2a2a" stroke-width="1"/>
<line x1="423.4" y1="201.88" x2="440.8" y2="201.88" stroke="#2a2a2a" stroke-width="1.1"/>
<line x1="428.3" y1="196.93" x2="435.9" y2="196.93" stroke="#2a2a2a" stroke-width="1"/>
<line x1="428.3" y1="206.82" x2="435.9" y2="206.82" stroke="#2a2a2a" stroke-width="1"/>
<text transform="translate(372.2 182.5) rotate(-90) scale(0.94 1)" x="-27.42" y="0" font-size="7.4" fill="#333333" stroke="#333333" stroke-width="0.17">Tumor weight [g]</text>
<circle cx="291.7" cy="236.3" r="1.45" fill="#fff" stroke="#d99a5e" stroke-width="0.8"/>
<text transform="translate(296.2 238.6) scale(0.98 1)" x="0" y="0" font-size="6.8" fill="#333333" stroke="#333333" stroke-width="0.16">Isotype control</text>
<circle cx="291.7" cy="246.7" r="1.5" fill="#0d5b41"/>
<text transform="translate(296.2 249) scale(0.98 1)" x="0" y="0" font-size="6.8" fill="#333333" stroke="#333333" stroke-width="0.16">Platelet-depleted</text>
<text transform="translate(78.1 299.2) scale(0.95 1)" x="-39.67" y="0" font-size="9.2" fill="#333333" stroke="#333333" stroke-width="0.17">GPIIb/IIIa<tspan font-size="6.26" dy="-3.5">+</tspan><tspan dy="3.5"> platelets</tspan></text>
<text transform="translate(185.2 298.8) scale(0.96 1)" x="-36.09" y="0" font-size="9.2" fill="#333333" stroke="#333333" stroke-width="0.17">MPO<tspan font-size="6.26" dy="-3.5">+</tspan><tspan dy="3.5"> neutrophils</tspan></text>
<text transform="translate(291.5 298.8) scale(0.94 1)" x="-25.43" y="0" font-size="9.2" fill="#333333" stroke="#333333" stroke-width="0.17">CD8<tspan font-size="6.26" dy="-3.5">+</tspan><tspan dy="3.5"> T cells</tspan></text>
<defs>
<filter id="n1" x="0" y="0" width="1" height="1" color-interpolation-filters="sRGB">
 <feTurbulence type="fractalNoise" baseFrequency="0.5" numOctaves="2" seed="3" result="a0"/>
 <feColorMatrix in="a0" type="matrix" values="1 0 0 0 0 0 1 0 0 0 0 0 1 0 0 0 0 0 0 1" result="a"/>
 <feTurbulence type="fractalNoise" baseFrequency="0.07" numOctaves="3" seed="14" result="b0"/>
 <feColorMatrix in="b0" type="matrix" values="1 0 0 0 0 0 1 0 0 0 0 0 1 0 0 0 0 0 0 1" result="b"/>
 <feComposite in="a" in2="b" operator="arithmetic" k1="0" k2="0.78" k3="0.22" k4="0" result="m0"/>
 <feComponentTransfer in="m0" result="m"><feFuncR type="table" tableValues="0.05 0.3 0.5 0.57 0.6"/></feComponentTransfer>
 <feColorMatrix in="m" type="matrix" values="0.88 0 0 0 0.38 0.88 0 0 0 0.39 0.62 0 0 0 0.58 0 0 0 0 1" result="c"/>
 <feGaussianBlur in="c" stdDeviation="0.35"/>
</filter>
<filter id="n2" x="0" y="0" width="1" height="1" color-interpolation-filters="sRGB">
 <feTurbulence type="fractalNoise" baseFrequency="0.5" numOctaves="2" seed="8" result="a0"/>
 <feColorMatrix in="a0" type="matrix" values="1 0 0 0 0 0 1 0 0 0 0 0 1 0 0 0 0 0 0 1" result="a"/>
 <feTurbulence type="fractalNoise" baseFrequency="0.07" numOctaves="3" seed="19" result="b0"/>
 <feColorMatrix in="b0" type="matrix" values="1 0 0 0 0 0 1 0 0 0 0 0 1 0 0 0 0 0 0 1" result="b"/>
 <feComposite in="a" in2="b" operator="arithmetic" k1="0" k2="0.78" k3="0.22" k4="0" result="m0"/>
 <feComponentTransfer in="m0" result="m"><feFuncR type="table" tableValues="0.05 0.3 0.5 0.57 0.6"/></feComponentTransfer>
 <feColorMatrix in="m" type="matrix" values="0.82 0 0 0 0.43 0.82 0 0 0 0.43 0.82 0 0 0 0.45 0 0 0 0 1" result="c"/>
 <feGaussianBlur in="c" stdDeviation="0.35"/>
</filter>
<filter id="n2s" x="0" y="0" width="1" height="1" color-interpolation-filters="sRGB">
 <feTurbulence type="fractalNoise" baseFrequency="0.5" numOctaves="2" seed="21" result="a0"/>
 <feColorMatrix in="a0" type="matrix" values="1 0 0 0 0 0 1 0 0 0 0 0 1 0 0 0 0 0 0 1" result="a"/>
 <feTurbulence type="fractalNoise" baseFrequency="0.05" numOctaves="3" seed="32" result="b0"/>
 <feColorMatrix in="b0" type="matrix" values="1 0 0 0 0 0 1 0 0 0 0 0 1 0 0 0 0 0 0 1" result="b"/>
 <feComposite in="a" in2="b" operator="arithmetic" k1="0" k2="0.7" k3="0.3" k4="0" result="m0"/>
 <feComponentTransfer in="m0" result="m"><feFuncR type="table" tableValues="0 0.25 0.5 0.75 1"/></feComponentTransfer>
 <feColorMatrix in="m" type="matrix" values="0.55 0 0 0 0.59 0.55 0 0 0 0.59 0.55 0 0 0 0.6 0 0 0 0 1" result="c"/>
 <feGaussianBlur in="c" stdDeviation="0.45"/>
</filter>
<filter id="n3" x="0" y="0" width="1" height="1" color-interpolation-filters="sRGB">
 <feTurbulence type="fractalNoise" baseFrequency="0.5" numOctaves="2" seed="13" result="a0"/>
 <feColorMatrix in="a0" type="matrix" values="1 0 0 0 0 0 1 0 0 0 0 0 1 0 0 0 0 0 0 1" result="a"/>
 <feTurbulence type="fractalNoise" baseFrequency="0.07" numOctaves="3" seed="24" result="b0"/>
 <feColorMatrix in="b0" type="matrix" values="1 0 0 0 0 0 1 0 0 0 0 0 1 0 0 0 0 0 0 1" result="b"/>
 <feComposite in="a" in2="b" operator="arithmetic" k1="0" k2="0.78" k3="0.22" k4="0" result="m0"/>
 <feComponentTransfer in="m0" result="m"><feFuncR type="table" tableValues="0.05 0.3 0.5 0.57 0.6"/></feComponentTransfer>
 <feColorMatrix in="m" type="matrix" values="0.98 0 0 0 0.33 1.15 0 0 0 0.23 1.17 0 0 0 0.23 0 0 0 0 1" result="c"/>
 <feGaussianBlur in="c" stdDeviation="0.35"/>
</filter>
<filter id="n3s" x="0" y="0" width="1" height="1" color-interpolation-filters="sRGB">
 <feTurbulence type="fractalNoise" baseFrequency="0.5" numOctaves="2" seed="31" result="a0"/>
 <feColorMatrix in="a0" type="matrix" values="1 0 0 0 0 0 1 0 0 0 0 0 1 0 0 0 0 0 0 1" result="a"/>
 <feTurbulence type="fractalNoise" baseFrequency="0.05" numOctaves="3" seed="42" result="b0"/>
 <feColorMatrix in="b0" type="matrix" values="1 0 0 0 0 0 1 0 0 0 0 0 1 0 0 0 0 0 0 1" result="b"/>
 <feComposite in="a" in2="b" operator="arithmetic" k1="0" k2="0.7" k3="0.3" k4="0" result="m0"/>
 <feComponentTransfer in="m0" result="m"><feFuncR type="table" tableValues="0 0.25 0.5 0.75 1"/></feComponentTransfer>
 <feColorMatrix in="m" type="matrix" values="0.55 0 0 0 0.59 0.55 0 0 0 0.58 0.55 0 0 0 0.59 0 0 0 0 1" result="c"/>
 <feGaussianBlur in="c" stdDeviation="0.45"/>
</filter>
<clipPath id="cp2"><path d="M135 304.2 L175 304.2 C161 312 151 321 146 330 C141 340 139.3 355 138.8 370 L138 402.5 L135 402.5 Z"/></clipPath>
<clipPath id="cp3"><path d="M240 304.2 L276 304.2 C268 309 262 313 258 318 C253 324 249.5 330 247.5 336 C245 343 243.5 350 242 362 L240 366 Z"/></clipPath>
</defs>
<rect x="28" y="304" width="101" height="98.7" fill="#ccd" filter="url(#n1)"/>
<rect x="135" y="304.2" width="100.5" height="98.3" fill="#ccc" filter="url(#n2)"/>
<rect x="240" y="304.2" width="102.5" height="98.3" fill="#ccc" filter="url(#n3)"/>
<g clip-path="url(#cp2)"><rect x="135" y="304.2" width="42" height="98.3" fill="#ddd" filter="url(#n2s)"/></g>
<g clip-path="url(#cp3)"><rect x="240" y="304.2" width="40" height="64" fill="#ddd" filter="url(#n3s)"/></g>
<defs><filter id="soft" x="-30%" y="-30%" width="160%" height="160%"><feGaussianBlur stdDeviation="5"/></filter><clipPath id="ci1"><rect x="28" y="304" width="101" height="98.7"/></clipPath><clipPath id="ci2"><rect x="135" y="304.2" width="100.5" height="98.3"/></clipPath><clipPath id="ci3"><rect x="240" y="304.2" width="102.5" height="98.3"/></clipPath></defs>
<g clip-path="url(#ci1)"><g filter="url(#soft)"><path d="M40 322 C60 330 80 345 95 362 C105 374 118 388 132 398" stroke="#f4f4fa" stroke-width="14" fill="none" opacity="0.22"/><ellipse cx="32" cy="365" rx="12" ry="40" fill="#9a9cc4" opacity="0.14"/><ellipse cx="70" cy="402" rx="45" ry="10" fill="#9a9cc4" opacity="0.13"/><ellipse cx="118" cy="330" rx="14" ry="22" fill="#9a9cc4" opacity="0.12"/></g></g>
<g clip-path="url(#ci3)"><g filter="url(#soft)"><ellipse cx="332" cy="350" rx="12" ry="22" fill="#f0eef0" opacity="0.35"/><ellipse cx="285" cy="345" rx="35" ry="30" fill="#8a7078" opacity="0.12"/></g></g>
<path d="M62 339 C70 345 78 352 86 362 C91 368 95 374 99 380" stroke="#e4e4ee" stroke-width="2.2" fill="none" opacity="0.45"/>
<path d="M66.5 342.2 L68 343 M71 344.6 L74.5 346.3 M79.5 351.5 L80.8 353 M86.5 361 L89.5 365.5 M90.5 367 L92 369 M94.5 372 L96.5 374.2 M103 377 L104.5 378.2 M112 381 L113.5 381.8" stroke="#5e4a4a" stroke-width="0.85" fill="none" opacity="0.7"/>
<circle cx="92.8" cy="370.6" r="1.1" fill="#c07878" opacity="0.7"/>
<g clip-path="url(#cp2)"><path d="M172 302 C158 310 148 319 143 328 C138 338 136.5 353 136 368 L135.5 404" stroke="#e9e9eb" stroke-width="5" fill="none" opacity="0.75"/></g>
<g clip-path="url(#cp3)"><path d="M273 302 C265 307 259 311 255.5 316 C250.5 322 247 328 245 334 C242.5 341 241 348 239.5 360" stroke="#e8e7e8" stroke-width="5" fill="none" opacity="0.7"/></g>
<line x1="380.6" y1="304.2" x2="380.6" y2="391.6" stroke="#181818" stroke-width="1.5"/>
<line x1="377.6" y1="307.3" x2="380.5" y2="307.3" stroke="#181818" stroke-width="1.1"/>
<text transform="translate(374.4 309.7) scale(0.9 1)" x="-3.78" y="0" font-size="6.8" fill="#333333" stroke="#333333" stroke-width="0.18">4</text>
<line x1="377.6" y1="328.3" x2="380.5" y2="328.3" stroke="#181818" stroke-width="1.1"/>
<text transform="translate(374.4 330.7) scale(0.9 1)" x="-3.78" y="0" font-size="6.8" fill="#333333" stroke="#333333" stroke-width="0.18">3</text>
<line x1="377.6" y1="349.3" x2="380.5" y2="349.3" stroke="#181818" stroke-width="1.1"/>
<text transform="translate(374.4 351.7) scale(0.9 1)" x="-3.78" y="0" font-size="6.8" fill="#333333" stroke="#333333" stroke-width="0.18">2</text>
<line x1="377.6" y1="370.3" x2="380.5" y2="370.3" stroke="#181818" stroke-width="1.1"/>
<text transform="translate(374.4 372.7) scale(0.9 1)" x="-3.78" y="0" font-size="6.8" fill="#333333" stroke="#333333" stroke-width="0.18">1</text>
<line x1="377.6" y1="391.3" x2="380.5" y2="391.3" stroke="#181818" stroke-width="1.1"/>
<text transform="translate(374.4 393.7) scale(0.9 1)" x="-3.78" y="0" font-size="6.8" fill="#333333" stroke="#333333" stroke-width="0.18">0</text>
<line x1="380.5" y1="391.3" x2="508.8" y2="391.3" stroke="#181818" stroke-width="1.5"/>
<line x1="380.5" y1="391.3" x2="380.5" y2="394" stroke="#181818" stroke-width="1.1"/>
<text transform="translate(380.5 403.2) scale(0.95 1)" x="-1.89" y="0" font-size="6.8" fill="#333333" stroke="#333333" stroke-width="0.17">0</text>
<line x1="405.9" y1="391.3" x2="405.9" y2="394" stroke="#181818" stroke-width="1.1"/>
<text transform="translate(405.9 403.2) scale(0.95 1)" x="-5.67" y="0" font-size="6.8" fill="#333333" stroke="#333333" stroke-width="0.17">200</text>
<line x1="431.3" y1="391.3" x2="431.3" y2="394" stroke="#181818" stroke-width="1.1"/>
<text transform="translate(431.3 403.2) scale(0.95 1)" x="-5.67" y="0" font-size="6.8" fill="#333333" stroke="#333333" stroke-width="0.17">400</text>
<line x1="456.7" y1="391.3" x2="456.7" y2="394" stroke="#181818" stroke-width="1.1"/>
<text transform="translate(456.7 403.2) scale(0.95 1)" x="-5.67" y="0" font-size="6.8" fill="#333333" stroke="#333333" stroke-width="0.17">600</text>
<line x1="482.1" y1="391.3" x2="482.1" y2="394" stroke="#181818" stroke-width="1.1"/>
<text transform="translate(482.1 403.2) scale(0.95 1)" x="-5.67" y="0" font-size="6.8" fill="#333333" stroke="#333333" stroke-width="0.17">800</text>
<line x1="507.5" y1="391.3" x2="507.5" y2="394" stroke="#181818" stroke-width="1.1"/>
<text transform="translate(507.5 403.2) scale(0.95 1)" x="-7.56" y="0" font-size="6.8" fill="#333333" stroke="#333333" stroke-width="0.17">1000</text>
<text transform="translate(367 348) rotate(-90) scale(0.8 1)" x="-7.2" y="0" font-size="7.2" fill="#333333" stroke="#333333" stroke-width="0.2">NLR</text>
<text transform="translate(444 418.3) scale(0.71 1)" x="-71.71" y="0" font-size="9.6" fill="#333333" stroke="#333333" stroke-width="0.23">Platelet accumulation [n per mm<tspan font-size="6.53" dy="-3.65">2</tspan><tspan dy="3.65">]</tspan></text>
<text transform="translate(396.7 316.5) scale(0.94 1)" x="0" y="0" font-size="6.8" fill="#333333" stroke="#333333" stroke-width="0.17">Pearson r = 0.76; <tspan font-style="italic">P</tspan> = .0002</text>
<text transform="translate(396.7 324.6) scale(0.94 1)" x="0" y="0" font-size="6.8" fill="#333333" stroke="#333333" stroke-width="0.17">Spearman r = 0.49; <tspan font-style="italic">P</tspan> = .0327</text>
<line x1="386.5" y1="388.6" x2="493" y2="344.8" stroke="#1c3e6c" stroke-width="1"/>
<circle cx="494.04" cy="324.52" r="1.7" fill="#1c3e6c"/>
<circle cx="453.27" cy="348.67" r="1.7" fill="#1c3e6c"/>
<circle cx="448.44" cy="371.14" r="1.7" fill="#1c3e6c"/>
<circle cx="447.81" cy="374.5" r="1.7" fill="#1c3e6c"/>
<circle cx="388.12" cy="371.35" r="1.7" fill="#1c3e6c"/>
<circle cx="388.12" cy="373.87" r="1.7" fill="#1c3e6c"/>
<circle cx="394.72" cy="372.4" r="1.7" fill="#1c3e6c"/>
<circle cx="395.11" cy="378.7" r="1.7" fill="#1c3e6c"/>
<circle cx="402.09" cy="385" r="1.7" fill="#1c3e6c"/>
<circle cx="418.6" cy="388.15" r="1.7" fill="#1c3e6c"/>
<circle cx="420.5" cy="390.46" r="1.7" fill="#1c3e6c"/>
<circle cx="431.3" cy="390.25" r="1.7" fill="#1c3e6c"/>
<circle cx="381.13" cy="389.62" r="1.7" fill="#1c3e6c"/>
<circle cx="383.04" cy="390.25" r="1.7" fill="#1c3e6c"/>
<circle cx="385.58" cy="389.2" r="1.7" fill="#1c3e6c"/>
<circle cx="386.85" cy="388.15" r="1.7" fill="#1c3e6c"/>
<circle cx="387.49" cy="390.67" r="1.7" fill="#1c3e6c"/>
<circle cx="388.75" cy="388.78" r="1.7" fill="#1c3e6c"/>
<circle cx="390.02" cy="390.25" r="1.7" fill="#1c3e6c"/>
<circle cx="391.3" cy="390.88" r="1.7" fill="#1c3e6c"/>
<circle cx="384.31" cy="390.88" r="1.7" fill="#1c3e6c"/>
<line x1="45.8" y1="435" x2="45.8" y2="578.6" stroke="#181818" stroke-width="1.5"/>
<line x1="42.5" y1="577.8" x2="45.5" y2="577.8" stroke="#181818" stroke-width="1.1"/>
<text transform="translate(40 580.2) scale(0.91 1)" x="-9.45" y="0" font-size="6.8" fill="#333333" stroke="#333333" stroke-width="0.18">0.0</text>
<line x1="43.8" y1="563.74" x2="45.5" y2="563.74" stroke="#181818" stroke-width="1"/>
<line x1="42.5" y1="549.68" x2="45.5" y2="549.68" stroke="#181818" stroke-width="1.1"/>
<text transform="translate(40 552.08) scale(0.91 1)" x="-9.45" y="0" font-size="6.8" fill="#333333" stroke="#333333" stroke-width="0.18">0.2</text>
<line x1="43.8" y1="535.62" x2="45.5" y2="535.62" stroke="#181818" stroke-width="1"/>
<line x1="42.5" y1="521.56" x2="45.5" y2="521.56" stroke="#181818" stroke-width="1.1"/>
<text transform="translate(40 523.96) scale(0.91 1)" x="-9.45" y="0" font-size="6.8" fill="#333333" stroke="#333333" stroke-width="0.18">0.4</text>
<line x1="43.8" y1="507.5" x2="45.5" y2="507.5" stroke="#181818" stroke-width="1"/>
<line x1="42.5" y1="493.44" x2="45.5" y2="493.44" stroke="#181818" stroke-width="1.1"/>
<text transform="translate(40 495.84) scale(0.91 1)" x="-9.45" y="0" font-size="6.8" fill="#333333" stroke="#333333" stroke-width="0.18">0.6</text>
<line x1="43.8" y1="479.38" x2="45.5" y2="479.38" stroke="#181818" stroke-width="1"/>
<line x1="42.5" y1="465.32" x2="45.5" y2="465.32" stroke="#181818" stroke-width="1.1"/>
<text transform="translate(40 467.72) scale(0.91 1)" x="-9.45" y="0" font-size="6.8" fill="#333333" stroke="#333333" stroke-width="0.18">0.8</text>
<line x1="43.8" y1="451.26" x2="45.5" y2="451.26" stroke="#181818" stroke-width="1"/>
<line x1="42.5" y1="437.2" x2="45.5" y2="437.2" stroke="#181818" stroke-width="1.1"/>
<text transform="translate(40 439.6) scale(0.91 1)" x="-9.45" y="0" font-size="6.8" fill="#333333" stroke="#333333" stroke-width="0.18">1.0</text>
<line x1="43.5" y1="578" x2="208.5" y2="578" stroke="#181818" stroke-width="1.5"/>
<line x1="45.5" y1="578" x2="45.5" y2="580.8" stroke="#181818" stroke-width="1.1"/>
<text transform="translate(45.5 589) scale(0.95 1)" x="-1.89" y="0" font-size="6.8" fill="#333333" stroke="#333333" stroke-width="0.17">0</text>
<line x1="53.53" y1="578" x2="53.53" y2="579.8" stroke="#181818" stroke-width="1"/>
<line x1="61.57" y1="578" x2="61.57" y2="580.8" stroke="#181818" stroke-width="1.1"/>
<text transform="translate(61.57 589) scale(0.95 1)" x="-3.78" y="0" font-size="6.8" fill="#333333" stroke="#333333" stroke-width="0.17">12</text>
<line x1="69.6" y1="578" x2="69.6" y2="579.8" stroke="#181818" stroke-width="1"/>
<line x1="77.64" y1="578" x2="77.64" y2="580.8" stroke="#181818" stroke-width="1.1"/>
<text transform="translate(77.64 589) scale(0.95 1)" x="-3.78" y="0" font-size="6.8" fill="#333333" stroke="#333333" stroke-width="0.17">24</text>
<line x1="85.67" y1="578" x2="85.67" y2="579.8" stroke="#181818" stroke-width="1"/>
<line x1="93.7" y1="578" x2="93.7" y2="580.8" stroke="#181818" stroke-width="1.1"/>
<text transform="translate(93.7 589) scale(0.95 1)" x="-3.78" y="0" font-size="6.8" fill="#333333" stroke="#333333" stroke-width="0.17">36</text>
<line x1="101.74" y1="578" x2="101.74" y2="579.8" stroke="#181818" stroke-width="1"/>
<line x1="109.77" y1="578" x2="109.77" y2="580.8" stroke="#181818" stroke-width="1.1"/>
<text transform="translate(109.77 589) scale(0.95 1)" x="-3.78" y="0" font-size="6.8" fill="#333333" stroke="#333333" stroke-width="0.17">48</text>
<line x1="117.81" y1="578" x2="117.81" y2="579.8" stroke="#181818" stroke-width="1"/>
<line x1="125.84" y1="578" x2="125.84" y2="580.8" stroke="#181818" stroke-width="1.1"/>
<text transform="translate(125.84 589) scale(0.95 1)" x="-3.78" y="0" font-size="6.8" fill="#333333" stroke="#333333" stroke-width="0.17">60</text>
<line x1="133.87" y1="578" x2="133.87" y2="579.8" stroke="#181818" stroke-width="1"/>
<line x1="141.91" y1="578" x2="141.91" y2="580.8" stroke="#181818" stroke-width="1.1"/>
<text transform="translate(141.91 589) scale(0.95 1)" x="-3.78" y="0" font-size="6.8" fill="#333333" stroke="#333333" stroke-width="0.17">72</text>
<line x1="149.94" y1="578" x2="149.94" y2="579.8" stroke="#181818" stroke-width="1"/>
<line x1="157.98" y1="578" x2="157.98" y2="580.8" stroke="#181818" stroke-width="1.1"/>
<text transform="translate(157.98 589) scale(0.95 1)" x="-3.78" y="0" font-size="6.8" fill="#333333" stroke="#333333" stroke-width="0.17">84</text>
<line x1="166.01" y1="578" x2="166.01" y2="579.8" stroke="#181818" stroke-width="1"/>
<line x1="174.04" y1="578" x2="174.04" y2="580.8" stroke="#181818" stroke-width="1.1"/>
<text transform="translate(174.04 589) scale(0.95 1)" x="-3.78" y="0" font-size="6.8" fill="#333333" stroke="#333333" stroke-width="0.17">96</text>
<line x1="182.08" y1="578" x2="182.08" y2="579.8" stroke="#181818" stroke-width="1"/>
<line x1="190.11" y1="578" x2="190.11" y2="580.8" stroke="#181818" stroke-width="1.1"/>
<text transform="translate(190.11 589) scale(0.95 1)" x="-5.67" y="0" font-size="6.8" fill="#333333" stroke="#333333" stroke-width="0.17">108</text>
<line x1="198.15" y1="578" x2="198.15" y2="579.8" stroke="#181818" stroke-width="1"/>
<line x1="206.18" y1="578" x2="206.18" y2="580.8" stroke="#181818" stroke-width="1.1"/>
<text transform="translate(206.18 589) scale(0.95 1)" x="-5.67" y="0" font-size="6.8" fill="#333333" stroke="#333333" stroke-width="0.17">120</text>
<text transform="translate(26.2 506.2) rotate(-90) scale(0.78 1)" x="-22.78" y="0" font-size="8.2" fill="#333333" stroke="#333333" stroke-width="0.2">RFS fraction</text>
<text transform="translate(127.7 601.6) scale(0.83 1)" x="-26.45" y="0" font-size="8.4" fill="#333333" stroke="#333333" stroke-width="0.19">Time [months]</text>
<line x1="46.5" y1="438.5" x2="56" y2="438.5" stroke="#1a4a86" stroke-width="1.6"/>
<line x1="48.5" y1="437.6" x2="48.5" y2="440" stroke="#1a4a86" stroke-width="0.9"/>
<line x1="50.5" y1="437.6" x2="50.5" y2="440" stroke="#1a4a86" stroke-width="0.9"/>
<line x1="53.2" y1="437.6" x2="53.2" y2="440" stroke="#1a4a86" stroke-width="0.9"/>
<path d="M55.2 438.5 L57 439.6 L60 441.8 L66 446.4 L74.6 452.5 L85 458.6 L95.4 462.9 L109.2 468.4 L120 471.6 L130 473.8 L137.3 476 L154.6 480.3 L172 483.4 L189.2 486.3 L206 488.6" stroke="#1a4a86" stroke-width="3.1" fill="none" stroke-linejoin="round"/>
<line x1="62.2" y1="441.08" x2="62.2" y2="445.88" stroke="#1a4a86" stroke-width="0.9"/>
<line x1="65.54" y1="443.64" x2="65.54" y2="448.44" stroke="#1a4a86" stroke-width="0.9"/>
<line x1="68.77" y1="445.97" x2="68.77" y2="450.77" stroke="#1a4a86" stroke-width="0.9"/>
<line x1="72.16" y1="448.37" x2="72.16" y2="453.17" stroke="#1a4a86" stroke-width="0.9"/>
<line x1="74.98" y1="450.33" x2="74.98" y2="455.13" stroke="#1a4a86" stroke-width="0.9"/>
<line x1="78.43" y1="452.34" x2="78.43" y2="457.14" stroke="#1a4a86" stroke-width="0.9"/>
<line x1="80.15" y1="453.35" x2="80.15" y2="458.15" stroke="#1a4a86" stroke-width="0.9"/>
<line x1="83.99" y1="455.61" x2="83.99" y2="460.41" stroke="#1a4a86" stroke-width="0.9"/>
<line x1="87.91" y1="457.4" x2="87.91" y2="462.2" stroke="#1a4a86" stroke-width="0.9"/>
<line x1="90.59" y1="458.51" x2="90.59" y2="463.31" stroke="#1a4a86" stroke-width="0.9"/>
<line x1="94.14" y1="459.98" x2="94.14" y2="464.78" stroke="#1a4a86" stroke-width="0.9"/>
<line x1="96.03" y1="460.75" x2="96.03" y2="465.55" stroke="#1a4a86" stroke-width="0.9"/>
<line x1="99.75" y1="462.23" x2="99.75" y2="467.03" stroke="#1a4a86" stroke-width="0.9"/>
<line x1="102.54" y1="463.35" x2="102.54" y2="468.15" stroke="#1a4a86" stroke-width="0.9"/>
<line x1="106.17" y1="464.79" x2="106.17" y2="469.59" stroke="#1a4a86" stroke-width="0.9"/>
<line x1="109.37" y1="466.05" x2="109.37" y2="470.85" stroke="#1a4a86" stroke-width="0.9"/>
<line x1="111.62" y1="466.72" x2="111.62" y2="471.52" stroke="#1a4a86" stroke-width="0.9"/>
<line x1="115.1" y1="467.75" x2="115.1" y2="472.55" stroke="#1a4a86" stroke-width="0.9"/>
<line x1="118.35" y1="468.71" x2="118.35" y2="473.51" stroke="#1a4a86" stroke-width="0.9"/>
<line x1="122.52" y1="469.75" x2="122.52" y2="474.55" stroke="#1a4a86" stroke-width="0.9"/>
<line x1="125.43" y1="470.39" x2="125.43" y2="475.19" stroke="#1a4a86" stroke-width="0.9"/>
<line x1="127.61" y1="470.87" x2="127.61" y2="475.67" stroke="#1a4a86" stroke-width="0.9"/>
<line x1="131.78" y1="471.94" x2="131.78" y2="476.74" stroke="#1a4a86" stroke-width="0.9"/>
<line x1="133.87" y1="472.57" x2="133.87" y2="477.37" stroke="#1a4a86" stroke-width="0.9"/>
<line x1="137.79" y1="473.72" x2="137.79" y2="478.52" stroke="#1a4a86" stroke-width="0.9"/>
<line x1="140.15" y1="474.31" x2="140.15" y2="479.11" stroke="#1a4a86" stroke-width="0.9"/>
<line x1="143.1" y1="475.04" x2="143.1" y2="479.84" stroke="#1a4a86" stroke-width="0.9"/>
<line x1="147.64" y1="476.17" x2="147.64" y2="480.97" stroke="#1a4a86" stroke-width="0.9"/>
<line x1="149.74" y1="476.69" x2="149.74" y2="481.49" stroke="#1a4a86" stroke-width="0.9"/>
<line x1="152.89" y1="477.48" x2="152.89" y2="482.28" stroke="#1a4a86" stroke-width="0.9"/>
<line x1="157.27" y1="478.38" x2="157.27" y2="483.18" stroke="#1a4a86" stroke-width="0.9"/>
<line x1="160.25" y1="478.91" x2="160.25" y2="483.71" stroke="#1a4a86" stroke-width="0.9"/>
<line x1="162.46" y1="479.3" x2="162.46" y2="484.1" stroke="#1a4a86" stroke-width="0.9"/>
<line x1="166.69" y1="480.05" x2="166.69" y2="484.85" stroke="#1a4a86" stroke-width="0.9"/>
<line x1="169.16" y1="480.49" x2="169.16" y2="485.29" stroke="#1a4a86" stroke-width="0.9"/>
<line x1="172.53" y1="481.09" x2="172.53" y2="485.89" stroke="#1a4a86" stroke-width="0.9"/>
<line x1="174.93" y1="481.49" x2="174.93" y2="486.29" stroke="#1a4a86" stroke-width="0.9"/>
<line x1="179.26" y1="482.22" x2="179.26" y2="487.02" stroke="#1a4a86" stroke-width="0.9"/>
<line x1="182.01" y1="482.69" x2="182.01" y2="487.49" stroke="#1a4a86" stroke-width="0.9"/>
<line x1="185.6" y1="483.29" x2="185.6" y2="488.09" stroke="#1a4a86" stroke-width="0.9"/>
<line x1="188.63" y1="483.8" x2="188.63" y2="488.6" stroke="#1a4a86" stroke-width="0.9"/>
<line x1="190.83" y1="484.12" x2="190.83" y2="488.92" stroke="#1a4a86" stroke-width="0.9"/>
<line x1="194.08" y1="484.57" x2="194.08" y2="489.37" stroke="#1a4a86" stroke-width="0.9"/>
<line x1="196.92" y1="484.96" x2="196.92" y2="489.76" stroke="#1a4a86" stroke-width="0.9"/>
<line x1="200.03" y1="485.38" x2="200.03" y2="490.18" stroke="#1a4a86" stroke-width="0.9"/>
<line x1="203.05" y1="485.8" x2="203.05" y2="490.6" stroke="#1a4a86" stroke-width="0.9"/>
<path d="M46.5 437.5 L55.6 437.5 L57.5 439.3 L59.5 441.3 L61.7 447.6 L63.5 450 L65.1 452 L66 456 L68 456.5 L68 457.5 L70.3 457.5 L70.3 459.5 L72.5 459.5 L72.5 461.5 L74.6 461.5 L74.6 463.5 L77 463.5 L77 466.5 L79 466.5 L79 469.5 L81.5 469.5 L81.5 471.5 L87.6 471.5 L89 471.5 L89 474.5 L91 474.5 L91 476.5 L94 476.5 L94 478.5 L96.5 478.5 L96.5 479.5 L98.8 479.5 L98.8 481.5 L101 481.5 L101 483.5 L103.5 483.5 L103.5 485.5 L105.8 485.5 L105.8 487.5 L109 487.5 L109 488.5 L112 488.5 L112 489.5 L114.4 489.5 L114.4 490.5 L119.6 490.5 L119.6 492.5 L134.7 492.5 L136 492.5 L136 494.5 L146 494.5 L148 494.5 L148 499.5 L169.3 499.5 L170.5 499.5 L170.5 501.5 L181.4 501.5 L184 501.5 L184 503.5 L187 503.5 L187 505.5 L198.7 505.5 L198.7 505.5 L201 505.5 L201 506.5 L203 506.5 L203 508.5 L206.5 508.5 L206.5 509.5" stroke="#c0223f" stroke-width="1.15" fill="none"/>
<line x1="140" y1="493.1" x2="140" y2="496.3" stroke="#c0223f" stroke-width="0.8"/>
<line x1="142.5" y1="493.1" x2="142.5" y2="496.3" stroke="#c0223f" stroke-width="0.8"/>
<line x1="160" y1="497.4" x2="160" y2="500.6" stroke="#c0223f" stroke-width="0.8"/>
<line x1="163" y1="497.4" x2="163" y2="500.6" stroke="#c0223f" stroke-width="0.8"/>
<line x1="174" y1="499.4" x2="174" y2="502.6" stroke="#c0223f" stroke-width="0.8"/>
<line x1="176.5" y1="499.4" x2="176.5" y2="502.6" stroke="#c0223f" stroke-width="0.8"/>
<line x1="178" y1="499.4" x2="178" y2="502.6" stroke="#c0223f" stroke-width="0.8"/>
<line x1="192" y1="503.6" x2="192" y2="506.8" stroke="#c0223f" stroke-width="0.8"/>
<line x1="195" y1="503.6" x2="195" y2="506.8" stroke="#c0223f" stroke-width="0.8"/>
<line x1="202.5" y1="505.9" x2="202.5" y2="509.1" stroke="#c0223f" stroke-width="0.8"/>
<line x1="55.4" y1="545.9" x2="65.4" y2="545.9" stroke="#7088b4" stroke-width="1.6"/>
<text transform="translate(69.2 548.2) scale(0.94 1)" x="0" y="0" font-size="6.9" fill="#333333" stroke="#333333" stroke-width="0.17">ITGA2B low</text>
<line x1="55.4" y1="555.6" x2="65.4" y2="555.6" stroke="#b04862" stroke-width="1.1"/>
<text transform="translate(69.2 557.9) scale(0.92 1)" x="0" y="0" font-size="6.9" fill="#333333" stroke="#333333" stroke-width="0.17">ITGA2B high</text>
<text transform="translate(69.2 568.3) scale(0.92 1)" x="0" y="0" font-size="6.9" fill="#333333" stroke="#333333" stroke-width="0.17">Log rank: <tspan font-style="italic">P</tspan> = .002</text>
<text transform="translate(69.2 576) scale(0.87 1)" x="0" y="0" font-size="6.9" fill="#333333" stroke="#333333" stroke-width="0.18">HR: 1.43</text>
</svg>
</body></html>
